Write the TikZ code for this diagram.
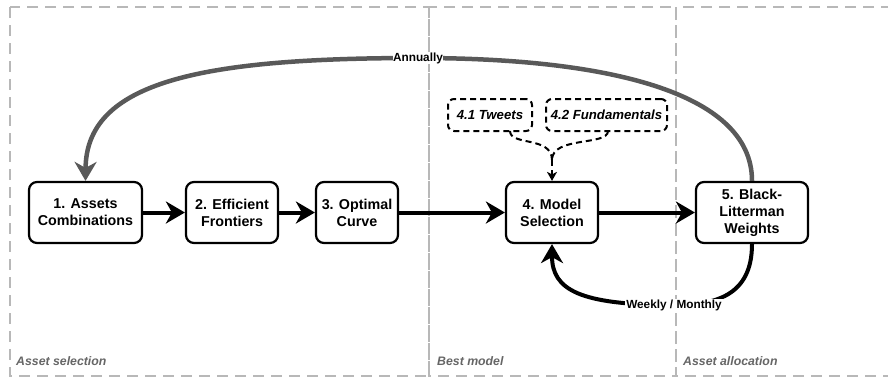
\documentclass[tikz,border=0pt]{standalone}
\usepackage{fontspec}
\setmainfont{Liberation Sans}
\usetikzlibrary{arrows.meta}
\definecolor{panelgray}{HTML}{B8B8B8}
\definecolor{loopgray}{HTML}{595959}
\definecolor{labelgray}{HTML}{666666}
\tikzset{
  stepbox/.style={draw=black, line width=2.2pt, rounded corners=8pt, align=center,
    font=\fontsize{14.3}{17}\selectfont\bfseries, inner sep=0pt, minimum height=61pt},
  sourcebox/.style={draw=black, line width=2pt, dash pattern=on 6pt off 4pt, rounded corners=6pt,
    font=\fontsize{13.2}{15}\selectfont\bfseries\itshape, inner sep=0pt, minimum height=32pt},
  panel/.style={draw=panelgray, line width=2.5pt, dash pattern=on 11pt off 7pt},
  paneltitle/.style={font=\fontsize{12.3}{14}\selectfont\bfseries\itshape, text=labelgray, anchor=west, inner sep=0pt},
  flow/.style={line width=4pt, -{Stealth[length=19pt,width=22pt,inset=6pt]}},
  feed/.style={line width=2pt, dash pattern=on 6pt off 4pt, -{Stealth[length=9pt,width=10pt,inset=2.5pt]}},
  freq/.style={font=\fontsize{11.8}{13}\selectfont\bfseries, fill=white, inner sep=1pt},
}
\begin{document}
\begin{tikzpicture}[x=1pt, y=-1pt]
\useasboundingbox (0,0) rectangle (888,378);
\clip (0,0) rectangle (888,378);

% panels
\draw[panel] (10,7) rectangle (429,376);
\draw[panel] (429,7) rectangle (676,376);
\draw[panel] (676,7) rectangle (910,376);
\node[paneltitle] (t1) at (16,361) {Asset selection};
\node[paneltitle] (t2) at (437,361) {Best model};
\node[paneltitle] (t3) at (683,361) {Asset allocation};

% process steps
\node[stepbox, minimum width=113pt] (s1) at (85.5,212.5) {1. Assets\\Combinations};
\node[stepbox, minimum width=92pt]  (s2) at (232,212.5) {2. Efficient\\Frontiers};
\node[stepbox, minimum width=82pt]  (s3) at (357,212.5) {3. Optimal\\Curve};
\node[stepbox, minimum width=92pt]  (s4) at (552,212.5) {4. Model\\Selection};
\node[stepbox, minimum width=112pt] (s5) at (752,212.5) {5. Black-\\Litterman\\Weights};

% model inputs
\node[sourcebox, minimum width=84pt]  (tw) at (490,115) {4.1 Tweets};
\node[sourcebox, minimum width=121pt] (fu) at (606.5,115) {4.2 Fundamentals};

% main flow
\draw[flow] (s1) -- (s2);
\draw[flow] (s2) -- (s3);
\draw[flow] (s3) -- (s4);
\draw[flow] (s4) -- (s5);

% inputs feeding the model selection
\coordinate (twout) at (510,131);
\coordinate (fuout) at (608,131);
\coordinate (merge) at (552,160);
\draw[line width=2pt, dash pattern=on 6pt off 4pt] (twout) .. controls (510,146) and (552,136) .. (merge);
\draw[line width=2pt, dash pattern=on 6pt off 4pt] (fuout) .. controls (608,146) and (552,136) .. (merge);
\draw[feed] (merge) -- (s4.north);

% annual rebalancing loop
\draw[loopgray, line width=4.5pt, -{Stealth[length=19pt,width=22pt,inset=6pt]}]
  (s5.north) .. controls (752,90) and (600,58) .. (418,58)
  node[freq, text=black, inner sep=0.5pt] (ann) {Annually}
  .. controls (200,58) and (86,82) .. (s1.north);

% weekly / monthly loop
\draw[line width=4pt, -{Stealth[length=19pt,width=22pt,inset=6pt]}]
  (s5.south) .. controls (752,296) and (715,305) .. (674,305)
  node[freq] (wm) {Weekly / Monthly}
  .. controls (580,305) and (552,290) .. (s4.south);
\end{tikzpicture}
\end{document}
